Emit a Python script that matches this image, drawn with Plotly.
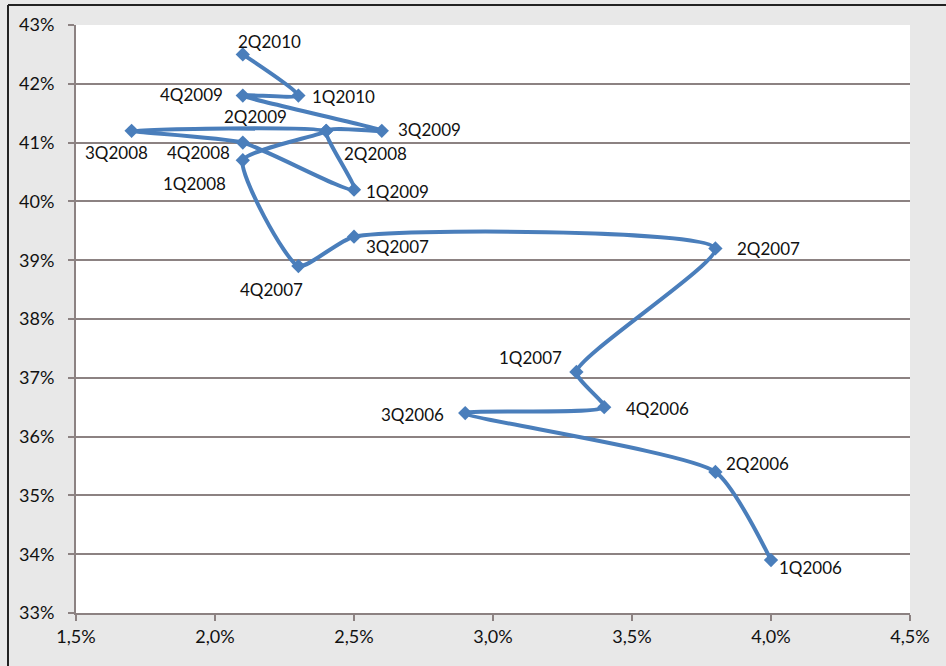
import plotly.graph_objects as go

# Quarterly observations (x: rate in %, y: share in %)
quarters = ["1Q2006", "2Q2006", "3Q2006", "4Q2006",
            "1Q2007", "2Q2007", "3Q2007", "4Q2007",
            "1Q2008", "2Q2008", "3Q2008", "4Q2008",
            "1Q2009", "2Q2009", "3Q2009", "4Q2009",
            "1Q2010", "2Q2010"]
x_vals = [4.0, 3.8, 2.9, 3.4,
          3.3, 3.8, 2.5, 2.3,
          2.1, 2.4, 1.7, 2.1,
          2.5, 2.4, 2.6, 2.1,
          2.3, 2.1]
y_vals = [33.9, 35.4, 36.4, 36.5,
          37.1, 39.2, 39.4, 38.9,
          40.7, 41.2, 41.2, 41.0,
          40.2, 41.2, 41.2, 41.8,
          41.8, 42.5]

x_ticks = [1.5, 2.0, 2.5, 3.0, 3.5, 4.0, 4.5]
x_tick_text = ["1,5%", "2,0%", "2,5%", "3,0%", "3,5%", "4,0%", "4,5%"]
y_ticks = [33, 34, 35, 36, 37, 38, 39, 40, 41, 42, 43]
y_tick_text = ["33%", "34%", "35%", "36%", "37%", "38%", "39%", "40%", "41%", "42%", "43%"]

# pixel offsets for each point label (dx right, dy up)
label_offsets = {
    "1Q2006": (39, -7), "2Q2006": (42, 8), "3Q2006": (-53, -1), "4Q2006": (53, -1),
    "1Q2007": (-46, 14), "2Q2007": (53, 0), "3Q2007": (43, -10), "4Q2007": (-27, -23),
    "1Q2008": (-48, -23), "2Q2008": (49, -23), "3Q2008": (-15, -22), "4Q2008": (-44, -10),
    "1Q2009": (43, -2), "2Q2009": (-71, 14), "3Q2009": (48, 1), "4Q2009": (-51, 1),
    "1Q2010": (45, -1), "2Q2010": (27, 13),
}

LINE_BLUE = "#4a7ebb"
GRID = "#8c8282"
FONT = "Lato"
TEXT = "#111111"

fig = go.Figure()
fig.add_trace(go.Scatter(
    x=x_vals, y=y_vals, mode="lines+markers",
    line=dict(color=LINE_BLUE, width=4, shape="spline", smoothing=0.55),
    marker=dict(symbol="diamond", size=11, color=LINE_BLUE),
    hoverinfo="skip", showlegend=False,
))

for q, xv, yv in zip(quarters, x_vals, y_vals):
    dx, dy = label_offsets[q]
    fig.add_annotation(x=xv, y=yv, text=q, showarrow=False,
                       xshift=dx, yshift=dy,
                       font=dict(family=FONT, size=17, color=TEXT))

# outer frame lines along the left and top edges
fig.add_shape(type="line", xref="paper", yref="paper",
              x0=-68 / 834, x1=-68 / 834, y0=1 + 20 / 588, y1=-53 / 588,
              line=dict(color="#222222", width=2))
fig.add_shape(type="line", xref="paper", yref="paper",
              x0=-68 / 834, x1=1 + 36 / 834, y0=1 + 20 / 588, y1=1 + 20 / 588,
              line=dict(color="#222222", width=2))

fig.update_layout(
    width=946, height=666,
    margin=dict(l=76, r=36, t=25, b=53),
    paper_bgcolor="#e8e8e8",
    plot_bgcolor="#ffffff",
    font=dict(family=FONT, size=18, color=TEXT),
    xaxis=dict(range=[1.5, 4.5], tickmode="array", tickvals=x_ticks, ticktext=x_tick_text,
               showgrid=False, zeroline=False, showline=True, linecolor=GRID, linewidth=2,
               ticks="outside", ticklen=6, tickcolor=GRID, tickwidth=1.5,
               tickfont=dict(family=FONT, size=18, color=TEXT)),
    yaxis=dict(range=[33, 43], tickmode="array", tickvals=y_ticks, ticktext=y_tick_text,
               showgrid=True, gridcolor=GRID, gridwidth=1.5, zeroline=False,
               showline=True, linecolor=GRID, linewidth=2,
               ticks="outside", ticklen=6, tickcolor=GRID, tickwidth=1.5,
               ticklabelstandoff=10,
               tickfont=dict(family=FONT, size=18, color=TEXT)),
)

fig.write_html("out.html")
